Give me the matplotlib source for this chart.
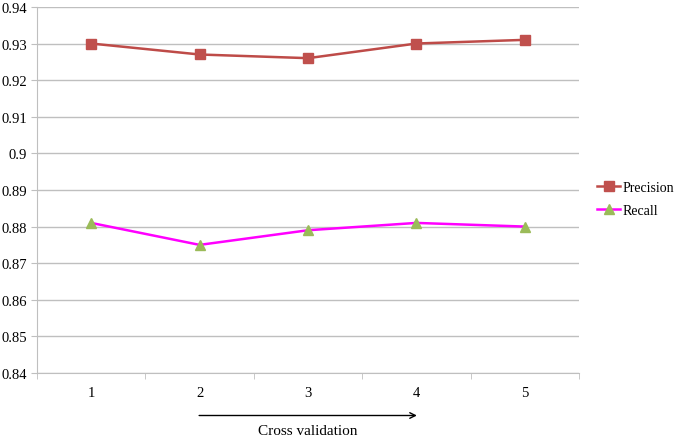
import matplotlib
matplotlib.use('Agg')
import matplotlib.pyplot as plt
import numpy as np

folds = [1, 2, 3, 4, 5]
precision = [0.930, 0.927, 0.926, 0.930, 0.931]
recall = [0.881, 0.875, 0.879, 0.881, 0.880]
y_ticks = [0.84, 0.85, 0.86, 0.87, 0.88, 0.89, 0.9, 0.91, 0.92, 0.93, 0.94]
y_labels = ['0.84', '0.85', '0.86', '0.87', '0.88', '0.89', '0.9', '0.91', '0.92', '0.93', '0.94']

plt.rcParams['font.family'] = ['Liberation Serif', 'DejaVu Serif']

fig = plt.figure(figsize=(6.75, 4.39), dpi=100)
ax = fig.add_axes([0.0548, 0.1480, 0.803, 0.834])

x = np.arange(len(folds))
ax.plot(x, precision, color='#BE4B48', lw=1.8, marker='s', ms=7,
        markerfacecolor='#C0504D', markeredgecolor='#C0504D', label='Precision')
ax.plot(x, recall, color='#FF00FF', lw=1.8, marker='^', ms=7.5,
        markerfacecolor='#9BBB59', markeredgecolor='#9BBB59', label='Recall')

ax.set_xlim(-0.5, len(folds) - 0.5)
ax.set_ylim(0.84, 0.94)
ax.set_yticks(y_ticks)
ax.set_yticklabels(y_labels, fontsize=10.5)
ax.set_xticks(x)
ax.set_xticklabels([str(f) for f in folds], fontsize=10.5)
ax.set_xticks(np.arange(len(folds) + 1) - 0.5, minor=True)

ax.grid(axis='y', color='#BFBFBF', lw=1)
ax.set_axisbelow(True)
for s in ['top', 'right']:
    ax.spines[s].set_visible(False)
for s in ['left', 'bottom']:
    ax.spines[s].set_color('#BFBFBF')
ax.tick_params(axis='x', which='major', length=0, pad=9)
ax.tick_params(axis='x', which='minor', length=4, color='#BFBFBF', direction='out')
ax.tick_params(axis='y', length=4, color='#BFBFBF', pad=3)

ax.legend(loc='center left', bbox_to_anchor=(1.02, 0.475), frameon=False,
          borderaxespad=0.3, borderpad=0.2, fontsize=10, handlelength=1.7,
          handletextpad=0.15, labelspacing=0.75)

# arrow + label below the axis
ax.annotate('', xy=(3.03, -0.116), xytext=(0.97, -0.116), xycoords=('data', 'axes fraction'),
            arrowprops=dict(arrowstyle='->', color='black', lw=1))
ax.text(2, -0.157, 'Cross validation', transform=ax.get_xaxis_transform(),
        ha='center', va='center', fontsize=11)

fig.savefig('out.png', dpi=100)
